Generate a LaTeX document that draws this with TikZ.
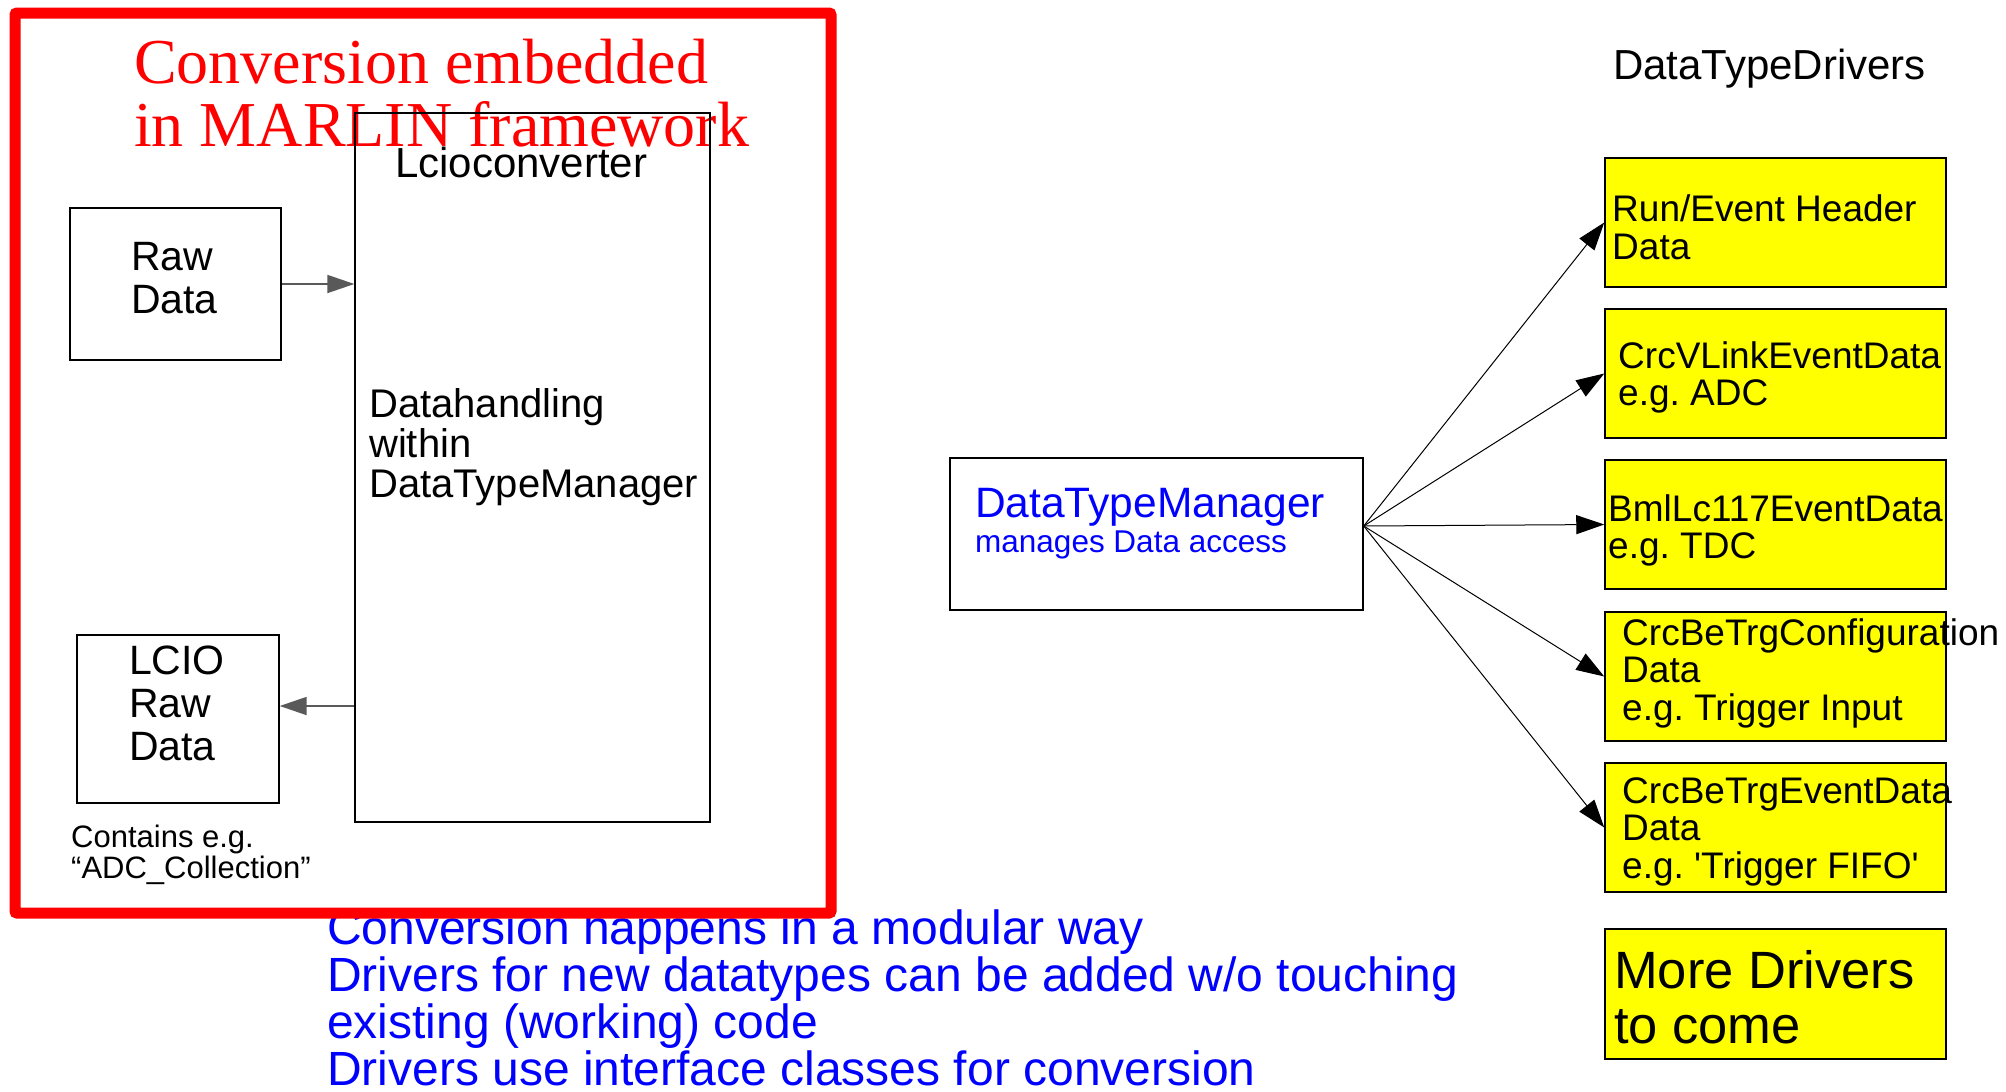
\documentclass[tikz,border=0pt]{standalone}
\usepackage{fontspec}
\setmainfont{Liberation Sans}
\newfontfamily\timesfont{Liberation Serif}
\usetikzlibrary{arrows.meta}
\frenchspacing
\newcommand\fs[2]{\fontsize{#1}{#2}\selectfont}
\newcommand\TwoL[2]{\vtop{\hbox{#1}\hbox{#2}}}
\newcommand\ThreeL[3]{\vtop{\hbox{#1}\hbox{#2}\hbox{#3}}}
\newcommand\FourL[4]{\vtop{\hbox{#1}\hbox{#2}\hbox{#3}\hbox{#4}}}
\definecolor{pblue}{RGB}{0,0,255}
\definecolor{pred}{RGB}{255,0,0}
\definecolor{pyellow}{RGB}{255,255,0}
\begin{document}
\begin{tikzpicture}[x=1pt,y=-1pt,
  wbox/.style={draw, line width=1.4pt, inner sep=0pt},
  ybox/.style={draw, fill=pyellow, line width=1.5pt, inner sep=0pt,
    minimum width=341pt, minimum height=129pt},
  txt/.style={anchor=base west, inner sep=0pt},
  arr/.style={-{Triangle[length=28pt,width=19pt]}, line width=1pt},
  garr/.style={-{Triangle[length=27pt,width=18pt]}, line width=1.8pt, draw=black!65, fill=black}]
\useasboundingbox (0,0) rectangle (2006,1092);
\fill[white] (0,0) rectangle (2006,1092);

% bottom blue text (under the red frame)
\node[txt, text=pblue, font=\fs{48}{47.3}] (notes) at (327,944)
  {\FourL{Conversion happens in a modular way}{Drivers for new datatypes can be added w/o touching}{existing (working) code}{Drivers use interface classes for conversion}};

% left part
\node[txt, text=pred, font={\timesfont\fs{64}{63}}] (title) at (134,83)
  {\TwoL{Conversion embedded}{in MARLIN framework}};

\node[wbox, minimum width=355pt, minimum height=709pt] (lcio) at (532.5,467.5) {};
\node[txt, font=\fs{42}{43}] (lciot) at (395,177) {Lcioconverter};
\node[txt, font=\fs{40}{40}] (dh) at (369,417) {\ThreeL{Datahandling}{within}{DataTypeManager}};

\node[wbox, minimum width=211pt, minimum height=152pt] (raw) at (175.5,284) {};
\node[txt, font=\fs{41}{43}] (rawt) at (131,270) {\TwoL{Raw}{Data}};

\node[wbox, minimum width=202pt, minimum height=168pt] (lraw) at (178,719) {};
\node[txt, font=\fs{41}{43}] (lrawt) at (129,674) {\ThreeL{LCIO}{Raw}{Data}};

\node[txt, font=\fs{31}{31}] (cont) at (71,847) {\TwoL{Contains e.g.}{“ADC\_Collection”}};

\draw[garr] (raw.east) -- (raw.east -| lcio.west);
\coordinate (la) at ([yshift=13pt]lraw.east);
\draw[garr] (lcio.west |- la) -- (la);

\node[draw=pred, line width=11pt, minimum width=816pt, minimum height=900pt, inner sep=0pt, rounded corners=2pt] (frame) at (423,463) {};

% right part
\node[wbox, minimum width=413pt, minimum height=152pt] (dtm) at (1156.5,534) {};
\node[txt, text=pblue, font=\fs{42.5}{42}] (dtmt) at (975,517) {DataTypeManager};
\node[txt, text=pblue, font=\fs{31.5}{31}] (dtms) at (975,552) {manages Data access};

\node[txt, font=\fs{42}{42}] (hdr) at (1613,79) {DataTypeDrivers};

\node[ybox] (b1) at (1775.5,222.5) {};
\node[ybox] (b2) at (1775.5,373.5) {};
\node[ybox] (b3) at (1775.5,524.5) {};
\node[ybox] (b4) at (1775.5,676.5) {};
\node[ybox] (b5) at (1775.5,827.5) {};
\node[ybox, minimum height=130pt] (b6) at (1775.5,994) {};

\node[txt, font=\fs{37}{38}] (b1t) at (1612,221) {\TwoL{Run/Event Header}{Data}};
\node[txt, font=\fs{37}{37.5}] (b2t) at (1618,368) {\TwoL{CrcVLinkEventData}{e.g. ADC}};
\node[txt, font=\fs{37}{37.5}] (b3t) at (1608,521) {\TwoL{BmlLc117EventData}{e.g. TDC}};
\node[txt, font=\fs{37}{37.5}] (b4t) at (1622,645) {\ThreeL{CrcBeTrgConfiguration}{Data}{e.g. Trigger Input}};
\node[txt, font=\fs{37}{37.5}] (b5t) at (1622,803) {\ThreeL{CrcBeTrgEventData}{Data}{e.g. \textquotesingle Trigger FIFO\textquotesingle}};
\node[txt, font=\fs{52.5}{55}] (b6t) at (1614,988) {\TwoL{More Drivers}{to come}};

\coordinate (dtmo) at ([yshift=8pt]dtm.east);
\draw[arr] (dtmo) -- (b1.west);
\draw[arr] (dtmo) -- (b2.west);
\draw[arr] (dtmo) -- (b3.west);
\draw[arr] (dtmo) -- (b4.west);
\draw[arr] (dtmo) -- (b5.west);
\end{tikzpicture}
\end{document}
